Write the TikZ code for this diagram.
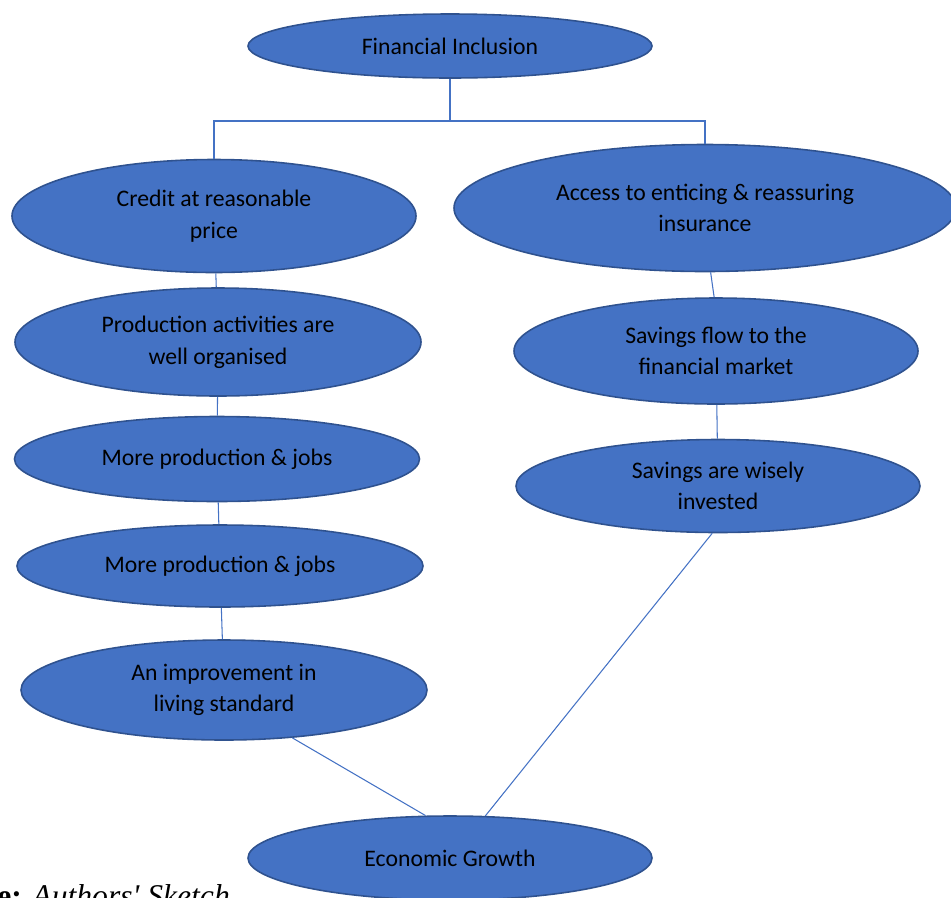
\documentclass[tikz,border=0pt]{standalone}
\usepackage{fontspec}
\setmainfont{Carlito}
\newfontfamily\capfont{Liberation Serif}
\usepackage{xcolor}
\usepackage{tikz}
\usetikzlibrary{shapes.geometric}

\definecolor{ovalfill}{HTML}{4472C4}
\definecolor{ovalline}{HTML}{2F528F}

\begin{document}
\begin{tikzpicture}[
  x=0.2mm, y=-0.2mm,
  oval/.style={ellipse, draw=ovalline, fill=ovalfill, line width=0.9pt,
               inner sep=0pt, minimum width=80.8mm, align=center,
               font=\fontsize{13.5}{18}\selectfont},
  link/.style={draw=ovalfill, line width=0.6pt},
]
  \useasboundingbox (0,0) rectangle (951,897);
  % Fila 0: origen
  \node[oval, minimum height=12.8mm] (fi)     at (450,  46) {Financial Inclusion};
  % Rama izquierda
  \node[oval, minimum height=22.6mm] (credit) at (214, 216) {Credit at reasonable\\price};
  \node[oval, minimum width=81.2mm, minimum height=21.6mm] (prod) at (218, 342) {Production activities are\\well organised};
  \node[oval, minimum width=81mm, minimum height=17mm] (more1) at (217, 459) {More production \& jobs};
  \node[oval, minimum width=81.2mm, minimum height=16.4mm] (more2) at (220, 566) {More production \& jobs};
  \node[oval, minimum width=81.2mm, minimum height=20mm] (living) at (224, 690) {An improvement in\\living standard};
  % Rama derecha
  \node[oval, minimum width=100.4mm, minimum height=25.4mm] (access) at (705, 208) {Access to enticing \& reassuring\\insurance};
  \node[oval, minimum height=21.2mm] (flow)   at (716, 351) {Savings flow to the\\financial market};
  \node[oval, minimum height=18.6mm] (wise)   at (718, 486) {Savings are wisely\\invested};
  % Fila final
  \node[oval, minimum height=16.8mm] (growth) at (450, 858) {Economic Growth};
  % Pie
  \node[anchor=base west, inner sep=0pt, font=\capfont\fontsize{18}{20}\selectfont]
    (src) at (-3, 906) {\textbf{e:} \textit{Authors' Sketch}};
  % Lineas
  \coordinate (split) at (450, 121);
  \draw[link] (fi.south) -- (split);
  \draw[link] (split) -| (credit.north);
  \draw[link] (split) -| (access.north);
  \draw[link] (credit) -- (prod);
  \draw[link] (prod)   -- (more1);
  \draw[link] (more1)  -- (more2);
  \draw[link] (more2)  -- (living);
  \draw[link] (access.275) -- (flow.92);
  \draw[link] (flow)   -- (wise);
  \draw[link] (wise.263)   -- (growth.50);
  \draw[link] (living.325) -- (growth.120);
\end{tikzpicture}
\end{document}
